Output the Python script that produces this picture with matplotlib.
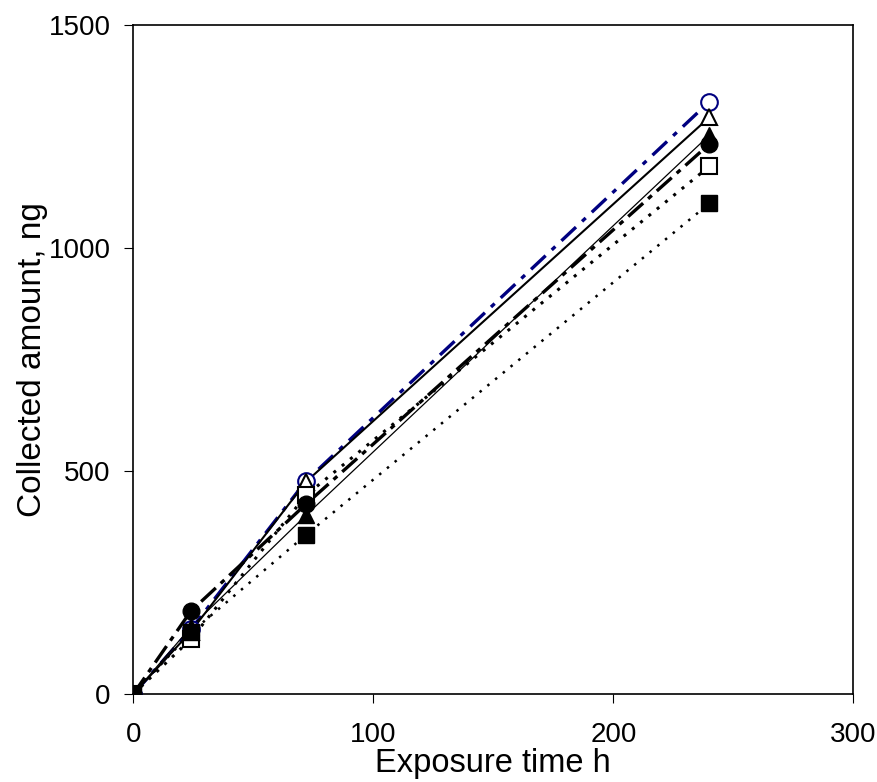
import matplotlib.pyplot as plt

plt.rcParams['font.family'] = ['Liberation Sans', 'DejaVu Sans']

# exposure times (h)
t = [0, 24, 72, 240]

# collected amounts (ng) per series
open_circle = [0, 145, 478, 1328]
open_triangle = [0, 140, 476, 1293]
filled_triangle = [0, 150, 401, 1253]
filled_circle = [0, 186, 426, 1233]
open_square = [0, 123, 446, 1183]
filled_square = [0, 138, 357, 1100]

fig = plt.figure(figsize=(8.77, 7.82), dpi=100)
ax = fig.add_axes([0.152, 0.1125, 0.821, 0.8555])

ms = 12
# lines first, markers on top (filled square drawn last)
ax.plot(t, open_circle, linestyle=(0, (6, 2.5, 1.5, 2.5)), color='#000080', lw=2.4)
ax.plot(t, open_triangle, '-', color='black', lw=1.5)
ax.plot(t, open_square, linestyle=(0, (1, 2.5)), color='black', lw=2.2)
ax.plot(t, filled_circle, linestyle=(0, (6, 2, 1.5, 2)), color='black', lw=2.4)
ax.plot(t, filled_triangle, '-', color='black', lw=0.9)
ax.plot(t, filled_square, linestyle=(0, (1, 3)), color='black', lw=1.8)

ax.plot(t, open_circle, 'o', ms=ms, mfc='white', mec='#000080', mew=1.5)
ax.plot(t, open_triangle, '^', ms=ms, mfc='white', mec='black', mew=1.5)
ax.plot(t, open_square, 's', ms=ms, mfc='white', mec='black', mew=1.5)
ax.plot(t, filled_circle, 'o', ms=ms, mfc='black', mec='black')
ax.plot(t, filled_triangle, '^', ms=ms, mfc='black', mec='black')
ax.plot(t, filled_square, 's', ms=ms, mfc='black', mec='black')

ax.set_xlim(0, 300)
ax.set_ylim(0, 1500)
ax.set_xticks([0, 100, 200, 300])
ax.set_yticks([0, 500, 1000, 1500])
ax.tick_params(direction='out', length=6.5, labelsize=20)
ax.tick_params(axis='y', pad=10)
ax.tick_params(axis='x', pad=14)
for s in ax.spines.values():
    s.set_linewidth(1.2)
    s.set_zorder(0.5)

ax.set_xlabel('Exposure time h', fontsize=23.5, labelpad=0)
ax.set_ylabel('Collected amount, ng', fontsize=24, labelpad=0)

fig.savefig('out.png', dpi=100)
